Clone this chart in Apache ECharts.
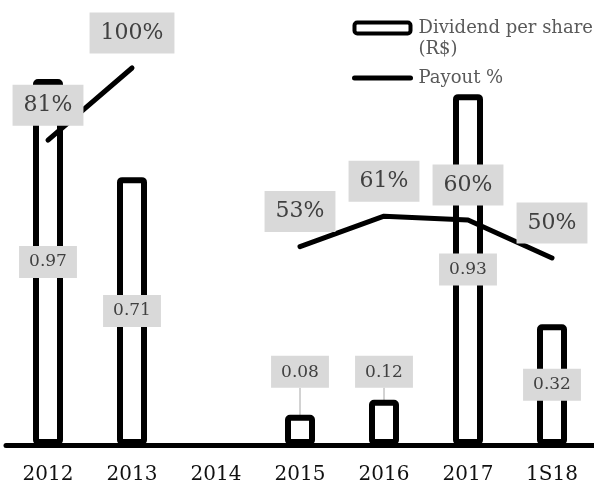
<!DOCTYPE html>
<html>
<head>
<meta charset="utf-8">
<script src="https://cdn.jsdelivr.net/npm/echarts@6/dist/echarts.min.js"></script>
<style>html,body{margin:0;padding:0;background:#fff}#c{width:594px;height:487px}</style>
</head>
<body>
<div id="c"></div>
<script>
var categories = ['2012', '2013', '2014', '2015', '2016', '2017', '1S18'];
var dividend = [0.97, 0.71, null, 0.08, 0.12, 0.93, 0.32];
var payout = [81, 100, null, 53, 61, 60, 50];
var seriesNames = ['Dividend per share (R$)', 'Payout %'];

var FONT = 'DejaVu Serif';
var chart = echarts.init(document.getElementById('c'), null, {renderer: 'canvas'});

var barData = dividend.map(function (v) {
  if (v === null) return null;
  if (v < 0.2) {
    return {
      value: v,
      label: {position: 'top', distance: 4},
      labelLine: {show: true, lineStyle: {color: '#a6a6a6', width: 1}}
    };
  }
  return v;
});

chart.setOption({
  animation: false,
  grid: {left: 6, width: 594, top: 30, bottom: 42, containLabel: false},
  legend: {
    orient: 'vertical', left: 352, top: -3.5, padding: 0, itemGap: 8,
    itemWidth: 56, itemHeight: 11,
    textStyle: {fontFamily: FONT, fontSize: 18, lineHeight: 21, color: '#595959', padding: [0, 0, 0, 3]},
    itemStyle: {borderWidth: 4},
    lineStyle: {width: 5},
    data: [
      {name: seriesNames[0]},
      {name: seriesNames[1]}
    ],
    formatter: function (n) { return n.indexOf('(R$)') >= 0 ? '\n' + n.replace(' (R$)', '\n(R$)') : n; }
  },
  xAxis: {
    type: 'category', data: categories,
    axisLine: {lineStyle: {color: '#000', width: 5}},
    axisTick: {show: false},
    axisLabel: {fontFamily: FONT, fontSize: 20, color: '#111', margin: 20}
  },
  yAxis: [
    {type: 'value', min: 0, max: 1.1, show: false, splitLine: {show: false}},
    {type: 'value', min: 0.8, max: 110, show: false, splitLine: {show: false}}
  ],
  series: [
    {
      name: seriesNames[0], type: 'bar', data: barData, barWidth: 30,
      itemStyle: {color: '#fff', borderColor: '#000', borderWidth: 6, borderRadius: 2},
      label: {
        show: true, position: 'inside', fontFamily: FONT, fontSize: 17, color: '#404040',
        backgroundColor: '#d9d9d9', padding: [8, 10, 7, 10],
        formatter: function (p) { return p.value.toFixed(2); }
      },
      labelLayout: function (p) {
        if (p.dataIndex === 3) return {dy: -23};
        if (p.dataIndex === 4) return {dy: -8};
        return {};
      },
      z: 2
    },
    {
      name: seriesNames[1], type: 'line', yAxisIndex: 1, data: payout,
      symbol: 'circle', symbolSize: 1, showSymbol: true, connectNulls: false,
      lineStyle: {color: '#000', width: 5, cap: 'round', join: 'round'},
      itemStyle: {color: 'rgba(0,0,0,0)'},
      label: {
        show: true, position: 'top', distance: 14, fontFamily: FONT, fontSize: 22, color: '#404040',
        backgroundColor: '#d9d9d9', padding: [8, 11, 8, 11], lineHeight: 25,
        formatter: '{c}%'
      },
      z: 3
    }
  ]
});
</script>
</body>
</html>
